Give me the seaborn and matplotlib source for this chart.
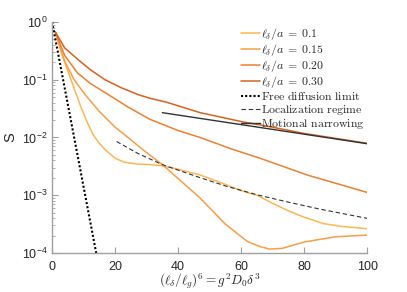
import numpy as np
import pandas as pd
import matplotlib
matplotlib.use('Agg')
import matplotlib.pyplot as plt
import seaborn as sns

sns.set_style('ticks')
plt.rcParams['font.family'] = ['Liberation Sans', 'DejaVu Sans']
plt.rcParams['mathtext.fontset'] = 'cm'

# signal attenuation curves for different l_delta / a
x_030 = [1, 4, 8, 12, 16.8, 22, 27.4, 31, 36.4, 47, 60.6, 66, 80, 100]
s_030 = [0.676, 0.355, 0.229, 0.151, 0.100, 0.0724, 0.0550, 0.0479, 0.0407,
         0.0269, 0.0186, 0.0166, 0.01175, 0.00794]

x_020 = [1, 4, 8, 12, 17.9, 24, 31, 40, 47, 57, 66, 81, 100]
s_020 = [0.676, 0.263, 0.132, 0.0871, 0.0550, 0.0339, 0.0207, 0.0132, 0.0100,
         0.00631, 0.00437, 0.00224, 0.00112]

x_015 = [1, 4, 7, 10.5, 15, 20, 25, 29, 35, 41, 47, 55, 62, 66, 69, 73, 80, 90, 100]
s_015 = [0.676, 0.209, 0.100, 0.0550, 0.0282, 0.0151, 0.00912, 0.00603, 0.00339,
         0.00174, 0.000891, 0.000316, 0.000158, 0.000129, 0.000117, 0.000120,
         0.000155, 0.000191, 0.000204]

x_010 = [1, 3, 5, 7, 9, 11, 13, 15, 17, 20, 23, 27, 31, 35, 40, 47, 53, 60, 65,
         70, 75, 80, 86, 92, 100]
s_010 = [0.676, 0.282, 0.141, 0.0708, 0.0355, 0.0191, 0.0112, 0.00794, 0.00603,
         0.00437, 0.00372, 0.00347, 0.00339, 0.00324, 0.00282, 0.00224, 0.00170,
         0.00120, 0.00100, 0.000724, 0.000537, 0.000417, 0.000324, 0.000288,
         0.000263]

# limiting regimes
x_free = [0, 14]
s_free = [1.0, 1e-4]
x_loc = [20.5, 27, 35, 45, 55, 65, 75, 85, 100]
s_loc = [0.00851, 0.00537, 0.00339, 0.00219, 0.00145, 0.00102, 0.000759,
         0.000575, 0.000398]
x_mn = [35, 100]
s_mn = [0.0269, 0.0078]

labels = [r'$\ell_\delta/a\;=\;0.1$', r'$\ell_\delta/a\;=\;0.15$',
          r'$\ell_\delta/a\;=\;0.20$', r'$\ell_\delta/a\;=\;0.30$']
colors = ['#ffb553', '#fb9d45', '#f07f2e', '#d9601f']

fig = plt.figure(figsize=(4.07, 2.92), dpi=100)
ax = fig.add_axes([0.128, 0.1336, 0.774, 0.7911])

series = [(x_010, s_010), (x_015, s_015), (x_020, s_020), (x_030, s_030)]
for (xs, ss), lab, c in zip(series, labels, colors):
    sns.lineplot(x=xs, y=ss, color=c, lw=1.1, label=lab, ax=ax)

sns.lineplot(x=x_free, y=s_free, color='black', lw=1.5, ls=(0, (1, 1)),
             label=r'$\mathrm{Free\ diffusion\ limit}$', ax=ax)
sns.lineplot(x=x_loc, y=s_loc, color='#333333', lw=0.8, ls=(0, (4, 2.5)),
             label=r'$\mathrm{Localization\ regime}$', ax=ax)
sns.lineplot(x=x_mn, y=s_mn, color='#333333', lw=1.0,
             label=r'$\mathrm{Motional\ narrowing}$', ax=ax)

ax.set_yscale('log')
ax.set_xlim(0, 100)
ax.set_ylim(1e-4, 1)
ax.set_xticks([0, 20, 40, 60, 80, 100])
ax.set_yticks([1e-4, 1e-3, 1e-2, 1e-1, 1])

sns.despine(ax=ax)
for sp in ['left', 'bottom']:
    ax.spines[sp].set_color('#a0a0a0')
    ax.spines[sp].set_linewidth(1.0)
ax.tick_params(which='both', direction='in', color='#a0a0a0',
               labelcolor='#262626', labelsize=9)
ax.tick_params(which='major', length=4)
ax.tick_params(which='minor', length=2)
ax.tick_params(axis='x', pad=6)
ax.tick_params(axis='y', pad=3.5)

ax.set_ylabel('S', fontsize=10.5, color='#262626', labelpad=3)
ax.set_xlabel(r'$(\ell_\delta/\ell_g)^6 = g^2 D_0 \delta^3$', fontsize=9.5,
              color='#262626', labelpad=-1)

leg = ax.legend(loc='upper left', bbox_to_anchor=(241 / 407, 1 - 26 / 292),
                bbox_transform=fig.transFigure, frameon=False, fontsize=8.5,
                handlelength=1.6, handletextpad=0.1, labelspacing=0.0,
                borderpad=0, borderaxespad=0)

fig.savefig('out.png', dpi=100)
